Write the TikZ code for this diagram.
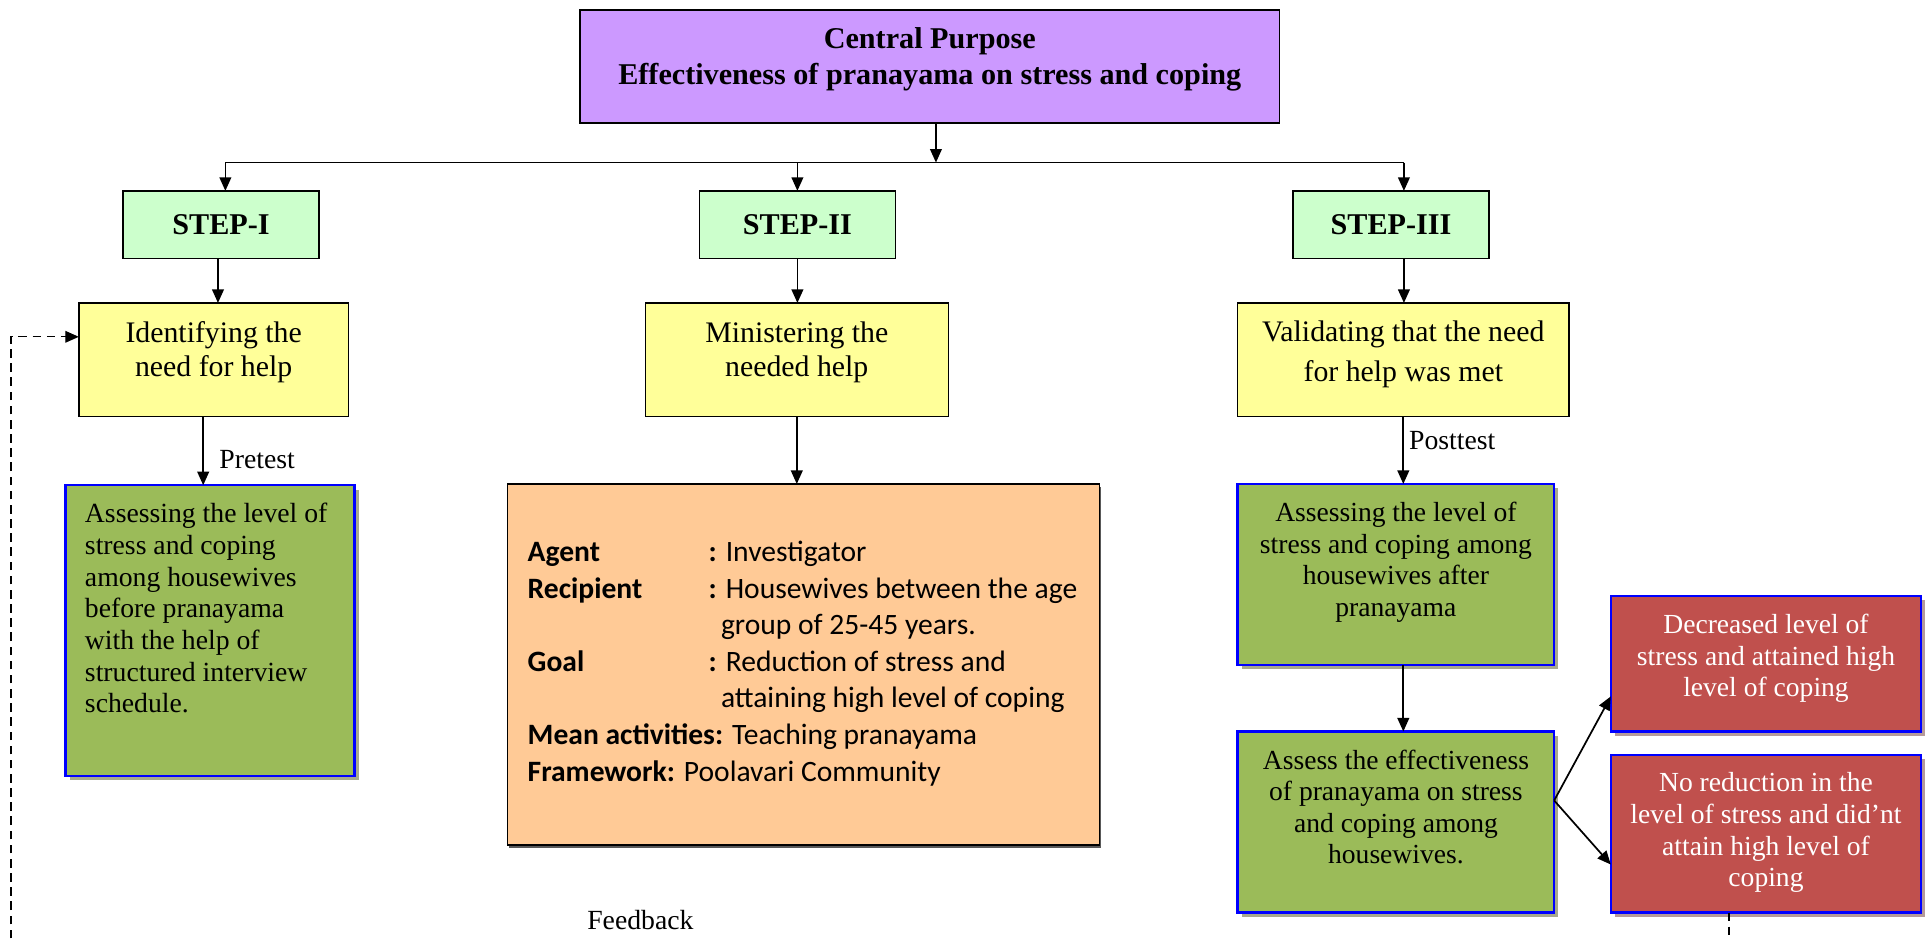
\documentclass[tikz,border=0pt]{standalone}
\usepackage{fontspec}
\setmainfont{Liberation Serif}
\newfontfamily\calib{Carlito}
\usetikzlibrary{arrows.meta,shadows}
\definecolor{purpleC}{HTML}{CC99FF}
\definecolor{stepC}{HTML}{CCFFCC}
\definecolor{yellowC}{HTML}{FFFF99}
\definecolor{greenC}{HTML}{9BBB59}
\definecolor{orangeC}{HTML}{FFCA96}
\definecolor{redC}{HTML}{C0504D}
\definecolor{blueB}{HTML}{0000FF}
\definecolor{gshadow}{HTML}{A7A88E}
\definecolor{rshadow}{HTML}{B59A9A}
% #1 width, #2 height, #3 setup, #4 first-baseline depth, #5 text
\newcommand{\btxt}[5]{\parbox[c][#2][t]{#1}{#3\rule{0pt}{#4}#5}}
\tikzset{
  base/.style={draw=black, line width=1.2pt, inner sep=0pt, outer sep=0pt, anchor=north west},
  purplebox/.style={base, fill=purpleC},
  stepbox/.style={base, fill=stepC, font=\fontsize{24.5}{28}\selectfont\bfseries},
  yellowbox/.style={base, fill=yellowC},
  greenbox/.style={base, draw=blueB, line width=2pt, fill=greenC,
     drop shadow={shadow xshift=3.5pt, shadow yshift=-3.5pt, fill=gshadow, opacity=1}},
  redbox/.style={base, draw=blueB, line width=2pt, fill=redC, text=white,
     drop shadow={shadow xshift=3.5pt, shadow yshift=-3.5pt, fill=rshadow, opacity=1}},
  orangebox/.style={base, fill=orangeC,
     drop shadow={shadow xshift=1pt, shadow yshift=-2.5pt, fill=black!65, opacity=1}},
  arr/.style={line width=1.4pt, -{Triangle[length=11pt,width=9.5pt]}},
  ln/.style={line width=1.4pt},
  dsh/.style={line width=1.1pt, dash pattern=on 7pt off 4.5pt},
  lbl/.style={inner sep=0pt, font=\fontsize{22.5}{26}\selectfont}
}
\begin{document}
\begin{tikzpicture}[x=1pt, y=-1pt]
\useasboundingbox (0,0) rectangle (1568,762);

% central purpose
\node[purplebox] (cp) at (471,8) {\btxt{568pt}{92pt}{\centering\bfseries\fontsize{24.5}{29}\selectfont}{31.5pt}{Central Purpose\\Effectiveness of pranayama on stress and coping}};

% steps
\node[stepbox, minimum width=159pt, minimum height=55pt] (s1) at (100,155) {STEP-I};
\node[stepbox, minimum width=159pt, minimum height=55pt] (s2) at (568,155) {STEP-II};
\node[stepbox, minimum width=159pt, minimum height=55pt] (s3) at (1050,155) {STEP-III};

% yellow boxes
\node[yellowbox] (id) at (64,246) {\btxt{219pt}{92pt}{\centering\fontsize{24.2}{27.6}\selectfont}{32.5pt}{Identifying the\\need for help}};
\node[yellowbox] (mi) at (524,246) {\btxt{246pt}{92pt}{\centering\fontsize{24.2}{27.6}\selectfont}{32.5pt}{Ministering the\\needed help}};
\node[yellowbox] (va) at (1005,246) {\btxt{269pt}{92pt}{\centering\fontsize{24.2}{32.5}\selectfont}{31.5pt}{Validating that the need\\for help was met}};

% green box left
\node[greenbox] (g1) at (53,394) {\btxt{235pt}{236pt}{\raggedright\leftskip=16pt\fontsize{22.5}{25.7}\selectfont}{30.5pt}{Assessing the level of\\stress and coping\\among housewives\\before pranayama\\with the help of\\structured interview\\schedule.}};

% orange box
\node[orangebox] (or) at (412,393) {\btxt{481pt}{293pt}{\raggedright\leftskip=16.5pt\calib\fontsize{24}{29.7}\selectfont}{63pt}{%
\makebox[147pt][l]{\textbf{Agent}}\textbf{:} Investigator\\
\makebox[147pt][l]{\textbf{Recipient}}\textbf{:} Housewives between the age\\
\hspace*{157pt}group of 25-45 years.\\
\makebox[147pt][l]{\textbf{Goal}}\textbf{:} Reduction of stress and\\
\hspace*{157pt}attaining high level of coping\\
\textbf{Mean activities:} Teaching pranayama\\
\textbf{Framework:} Poolavari Community}};

% right green boxes
\node[greenbox] (g2) at (1005,393) {\btxt{257pt}{147pt}{\centering\fontsize{22.4}{25.6}\selectfont}{30.5pt}{Assessing the level of\\stress and coping among\\housewives after\\pranayama}};
\node[greenbox] (g3) at (1005,594) {\btxt{257pt}{147pt}{\centering\fontsize{22.4}{25.6}\selectfont}{30.5pt}{Assess the effectiveness\\of pranayama on stress\\and coping among\\housewives.}};

% red boxes
\node[redbox] (r1) at (1308,484) {\btxt{252pt}{110pt}{\centering\fontsize{22.4}{25.5}\selectfont}{30.5pt}{Decreased level of\\stress and attained high\\level of coping}};
\node[redbox] (r2) at (1308,613) {\btxt{252pt}{128pt}{\centering\fontsize{22.4}{25.9}\selectfont}{29.5pt}{No reduction in the\\level of stress and did'nt\\attain high level of\\coping}};

% labels
\node[lbl, anchor=west] (pre) at (178,373) {Pretest};
\node[lbl, anchor=west] (post) at (1144,358) {Posttest};
\node[lbl] (fb) at (520,747) {Feedback};

% coordinates
\coordinate (j) at (760,132);
\coordinate (jl) at (183,132);
\coordinate (jr) at (1140,132);
\coordinate (fbR) at (1404,762);
\coordinate (fbL) at (9,762);

% connectors
\draw[arr] (cp.south -| j) -- (j);
\draw[ln] (jl) -- (jr);
\draw[arr] (jl) -- (jl |- s1.north);
\draw[arr] (s2.north |- j) -- (s2.north);
\draw[arr] (jr) -- (jr |- s3.north);

\draw[arr] ([xshift=-2.5pt]s1.south) -- ([xshift=-2.5pt]s1.south |- id.north);
\draw[arr] (s2.south) -- (s2.south |- mi.north);
\draw[arr] (jr |- s3.south) -- (jr |- va.north);

\draw[arr] ([xshift=-8.5pt]id.south) -- ([xshift=-8.5pt]id.south |- g1.north);
\draw[arr] (mi.south) -- (mi.south |- or.north);
\draw[arr] (va.south) -- (va.south |- g2.north);
\draw[arr] (va.south |- g2.south) -- (va.south |- g3.north);

\coordinate (br) at ([yshift=17.5pt]g3.east);
\draw[arr] (br) -- ([yshift=-26.5pt]r1.west);
\draw[arr] (br) -- ([yshift=-25pt]r2.west);

% feedback loop
\draw[dsh] ([xshift=-30pt]r2.south) -- (fbR);
\draw[dsh, -{Triangle[length=11pt,width=9.5pt]}] (fbL) |- ([yshift=18.5pt]id.west);
\end{tikzpicture}
\end{document}
